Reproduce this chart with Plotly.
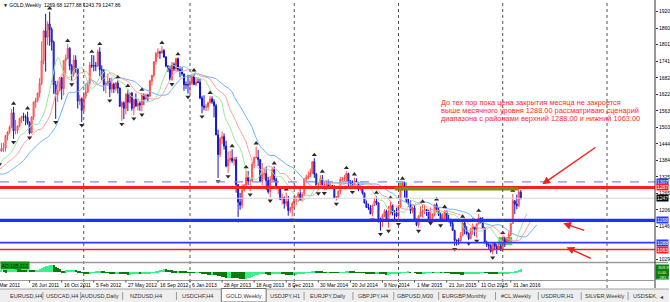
import numpy as np
import pandas as pd
import plotly.graph_objects as go

# ---------------- data (weekly GOLD bars) ----------------
opens = [
 1217,1229,1256,1256,1208,1210,1210,1188,1169,1204,1216,1228,1237,1248,1246,1275,1297,1318,1345,1369,1325,1358,1393,1367,1352,1362,1405,1385,1378,1380,
 1421,1369,1360,1343,1340,1348,1361,1388,1409,1429,1421,1418,1428,1429,1474,1486,1504,1556,1491,1493,1509,1536,1542,1541,1539,1521,1483,1541,1594,1601,1627,1662,1743,1851,1828,1876,1856,1811,1657,1622,1636,1682,1643,1744,1753,1788,1725,1695,1746,1713,1598,1606,
 1565,1616,1631,1664,1727,1725,1725,1725,1775,1711,1710,1657,1662,1669,1641,1659,1642,1663,1645,1579,1592,1572,1622,1594,1627,1572,1604,1580,1590,1584,1618,1605,1620,1616,1671,1691,1740,1770,1774,1772,1780,1757,1724,1712,1676,1731,1714,1751,1712,1705,1696,1657,1657,
 1656,1662,1686,1658,1667,1666,1609,1580,1576,1577,1592,1606,1595,1581,1476,1405,1462,1470,1436,1364,1387,1392,1383,1387,1297,1234,1223,1277,1296,1322,1310,1312,1371,1395,1395,1387,1308,1333,1337,1311,1272,1315,1351,1315,1287,1288,1244,1250,1229,1236,1204,1213,
 1230,1247,1254,1264,1240,1262,1318,1323,1327,1339,1379,1335,1294,1303,1318,1294,1300,1302,1290,1293,1292,1250,1252,1274,1316,1316,1320,1337,1310,1303,1293,1309,1305,1280,1287,1267,1231,1215,1213,1192,1222,1238,1231,1171,1169,1185,1201,1167,1191,1222,1195,1195,
 1184,1216,1277,1293,1283,1234,1227,1204,1213,1167,1152,1183,1199,1201,1207,1203,1174,1179,1189,1225,1205,1189,1168,1181,1201,1173,1168,1157,1132,1097,1095,1094,1113,1159,1134,1121,1103,1137,1145,1136,1156,1177,1163,1141,1088,1081,1077,1057,1086,1075,1065,1076,
 1061,1097,1089,1097,1117,1157,1239,1227,1221,1269.68]
highs = [
 1254,1262,1266,1262,1214,1218,1212,1199,1212,1216,1235,1241,1255,1259,1275,1300,1321,1349,1387,1381,1359,1398,1424,1378,1380,1416,1431,1407,1391,1424,
 1422,1391,1375,1346,1361,1374,1389,1417,1440,1445,1431,1447,1448,1476,1490,1510,1569,1577,1530,1510,1537,1545,1556,1549,1560,1525,1543,1597,1610,1628,1681,1813,1852,1912,1885,1920,1864,1816,1671,1672,1684,1685,1745,1766,1803,1792,1731,1764,1763,1717,1620,1611,
 1630,1660,1672,1739,1764,1763,1739,1784,1792,1727,1713,1669,1697,1681,1683,1664,1667,1672,1647,1598,1597,1627,1641,1628,1630,1606,1626,1605,1597,1627,1626,1625,1624,1675,1692,1741,1774,1788,1780,1796,1786,1760,1728,1725,1739,1737,1754,1755,1723,1722,1697,1669,1693,
 1680,1694,1697,1684,1683,1680,1617,1619,1588,1596,1616,1615,1605,1588,1495,1469,1488,1481,1455,1416,1419,1424,1396,1397,1298,1267,1298,1298,1348,1346,1318,1379,1398,1434,1422,1389,1375,1355,1362,1325,1328,1361,1362,1322,1292,1289,1264,1254,1268,1256,1217,1236,
 1255,1256,1271,1280,1270,1319,1333,1345,1355,1382,1392,1338,1303,1331,1332,1306,1315,1315,1305,1296,1294,1256,1276,1325,1325,1332,1345,1340,1314,1312,1322,1320,1306,1296,1291,1268,1240,1229,1223,1226,1250,1256,1233,1178,1192,1208,1207,1220,1238,1225,1205,1214,
 1224,1282,1307,1306,1287,1245,1240,1220,1223,1175,1187,1219,1224,1224,1209,1206,1215,1194,1228,1232,1215,1196,1194,1205,1204,1189,1174,1168,1134,1099,1104,1126,1170,1169,1147,1125,1142,1157,1148,1157,1191,1178,1180,1143,1095,1090,1083,1088,1088,1083,1088,1082,
 1111,1109,1104,1128,1158,1263,1240,1261,1281,1277.88]
lows = [
 1207,1216,1236,1198,1191,1199,1175,1157,1165,1191,1214,1222,1236,1240,1241,1270,1289,1311,1340,1316,1318,1329,1366,1330,1341,1355,1378,1365,1372,1375,
 1354,1355,1333,1309,1327,1340,1356,1385,1407,1415,1382,1416,1414,1416,1456,1480,1500,1462,1478,1480,1503,1520,1526,1511,1513,1478,1481,1530,1574,1593,1611,1655,1730,1704,1800,1797,1780,1624,1534,1595,1633,1603,1618,1693,1748,1709,1670,1685,1700,1571,1584,1523,
 1560,1606,1627,1651,1717,1705,1706,1721,1688,1673,1634,1627,1653,1612,1628,1627,1633,1625,1578,1527,1533,1550,1562,1589,1563,1547,1577,1564,1563,1561,1583,1600,1597,1613,1654,1683,1729,1755,1750,1768,1754,1720,1702,1673,1671,1705,1705,1705,1683,1690,1635,1642,1625,
 1626,1655,1655,1652,1662,1605,1554,1565,1562,1564,1590,1588,1539,1476,1321,1396,1444,1423,1359,1339,1377,1375,1366,1268,1180,1207,1211,1272,1292,1295,1273,1306,1357,1391,1364,1307,1295,1316,1278,1264,1251,1307,1306,1280,1262,1241,1226,1210,1219,1185,1194,1182,
 1211,1224,1235,1238,1236,1257,1309,1316,1324,1336,1321,1292,1277,1294,1290,1278,1278,1281,1287,1283,1249,1240,1249,1262,1309,1310,1310,1292,1287,1282,1286,1304,1273,1275,1261,1229,1213,1206,1190,1183,1220,1223,1160,1131,1145,1180,1162,1142,1190,1186,1171,1180,
 1167,1214,1276,1250,1232,1216,1192,1194,1163,1147,1142,1182,1178,1191,1184,1172,1170,1170,1183,1200,1184,1162,1165,1171,1171,1161,1146,1131,1077,1077,1080,1091,1112,1118,1116,1097,1100,1116,1112,1106,1154,1157,1141,1085,1072,1065,1052,1046,1062,1047,1064,1058,
 1061,1072,1078,1094,1111,1157,1191,1208,1216,1243.79]
closes = [
 1229,1256,1256,1208,1210,1210,1188,1169,1204,1216,1228,1237,1248,1246,1275,1297,1318,1345,1369,1325,1358,1393,1367,1352,1362,1405,1385,1378,1380,1421,
 1369,1360,1343,1340,1348,1361,1388,1409,1429,1421,1418,1428,1429,1474,1486,1504,1556,1491,1493,1509,1536,1542,1541,1539,1521,1483,1541,1594,1601,1627,1662,1743,1851,1828,1876,1856,1811,1657,1622,1636,1682,1643,1744,1753,1788,1725,1695,1746,1713,1598,1606,1565,
 1616,1631,1664,1727,1725,1725,1725,1775,1711,1710,1657,1662,1669,1641,1659,1642,1663,1645,1579,1592,1572,1622,1594,1627,1572,1604,1580,1590,1584,1618,1605,1620,1616,1671,1691,1740,1770,1774,1772,1780,1757,1724,1712,1676,1731,1714,1751,1712,1705,1696,1657,1657,1656,
 1662,1686,1658,1667,1666,1609,1580,1576,1577,1592,1606,1595,1581,1476,1405,1462,1470,1436,1364,1387,1392,1383,1387,1297,1234,1223,1277,1296,1322,1310,1312,1371,1395,1395,1387,1308,1333,1337,1311,1272,1315,1351,1315,1287,1288,1244,1250,1229,1236,1204,1213,1230,
 1247,1254,1264,1240,1262,1318,1323,1327,1339,1379,1335,1294,1303,1318,1294,1300,1302,1290,1293,1292,1250,1252,1274,1316,1316,1320,1337,1310,1303,1293,1309,1305,1280,1287,1267,1231,1215,1213,1192,1222,1238,1231,1171,1169,1185,1201,1167,1191,1222,1195,1195,1184,
 1216,1277,1293,1283,1234,1227,1204,1213,1167,1152,1183,1199,1201,1207,1203,1174,1179,1189,1225,1205,1189,1168,1181,1201,1173,1168,1157,1132,1097,1095,1094,1113,1159,1134,1121,1103,1137,1145,1136,1156,1177,1163,1141,1088,1081,1077,1057,1086,1075,1065,1076,1061,
 1097,1089,1097,1117,1157,1239,1227,1221,1271,1247.86]
last_bar = "2016-03-06"

date_label_dates = ["2011-03-06","2011-06-26","2011-10-16","2012-02-05","2012-05-27","2012-09-16","2013-01-06",
                    "2013-04-28","2013-08-18","2013-12-08","2014-03-30","2014-07-20","2014-11-09",
                    "2015-03-01","2015-06-21","2015-10-11","2016-01-31"]
date_label_texts = ["6 Mar 2011","26 Jun 2011","16 Oct 2011","5 Feb 2012","27 May 2012","16 Sep 2012","6 Jan 2013",
                    "28 Apr 2013","18 Aug 2013","8 Dec 2013","30 Mar 2014","20 Jul 2014","9 Nov 2014",
                    "1 Mar 2015","21 Jun 2015","11 Oct 2015","31 Jan 2016"]

price_ticks = [1920,1860,1801,1741,1682,1622,1563,1503,1444,1384,1325,1265,1206,1146,1029]

year_starts = ["2012-01-01","2013-01-06","2014-01-05","2015-01-04","2016-01-03","2017-01-01"]

levels = [  # price, label, line colour, width, dash, box colour
    (1307, "1307", "#7f86ff", 1.2, "dash", "#2b3cff"),
    (1287, "1287", "#ff1f1f", 3.0, "solid", "#ff1f1f"),
    (1247.86, "1247", "#d6d6d6", 1.0, "solid", "#000000"),
    (1168, "1168", "#1f2fff", 3.2, "solid", "#2b3cff"),
    (1088, "1088", "#2b3cff", 1.6, "solid", "#2b3cff"),
    (1063, "1063", "#ff2020", 1.4, "solid", "#ff2020"),
]

note_lines = ["До тех пор пока цена закрытия месяца не закроется",
              "выше месячного уровня 1288.00 рассматриваю сценарий",
              "диапазона с районами верхний 1288.00 и нижний 1063.00"]

tabs = ["EURUSD,H4","USDCAD,H4","AUDUSD,Daily","NZDUSD,H4","USDCHF,H4","GOLD,Weekly","USDJPY,H1",
        "EURJPY,Daily","GBPJPY,H4","GBPUSD,M30","EURGBP,Monthly","#CL,Weekly","USDRUR,H1",
        "SILVER,Weekly","USDSEK,"]
tab_centers = [26,62.5,100.5,146,198,244.5,285.5,329,374,416,465,518,559,606.5,647.5]
tab_seps = [43,81,123,177,305,354,395,440,497,540,583,630]

# ---------------- geometry helpers ----------------
W, H = 657, 280
def PX(x): return x / W
def PY(y): return (H - y) / H

ANCHOR = pd.Timestamp("2012-01-01")
ANCHOR_PX = 84.0
PX_PER_WEEK = 2.011
def date_at(px):
    return ANCHOR + pd.Timedelta(days=(px - ANCHOR_PX) / PX_PER_WEEK * 7)
def px_of(d):
    return ANCHOR_PX + (pd.Timestamp(d) - ANCHOR).total_seconds() / 86400 / 7 * PX_PER_WEEK

x_range = [date_at(0), date_at(W)]
y_range = [1018.2, 1962.2]

# ---------------- derived indicator series ----------------
n = len(closes)
dates = pd.date_range(end=last_bar, periods=n, freq="W-SUN")
o = np.array(opens, float); h = np.array(highs, float)
l = np.array(lows, float); c = np.array(closes, float)
med = (h + l) / 2

def smma(v, p):
    out = np.full(len(v), np.nan)
    s = v[:p].mean(); out[p - 1] = s
    for i in range(p, len(v)):
        s = (s * (p - 1) + v[i]) / p
        out[i] = s
    return out

def sma(v, p):
    return pd.Series(v).rolling(p).mean().values

ao = sma(med, 5) - sma(med, 34)
ao_col = ["#39f08a" if (i > 0 and ao[i] > ao[i - 1]) else "#0b7a0b" for i in range(n)]

fig = go.Figure()

# Alligator (jaw, teeth, lips)
for per, shift, col in [(13, 8, "#6db3ff"), (8, 5, "#ffa0a0"), (5, 3, "#9be89b")]:
    fig.add_trace(go.Scatter(x=dates + pd.Timedelta(weeks=shift), y=smma(med, per), mode="lines",
                             line=dict(color=col, width=1), hoverinfo="skip", showlegend=False))

fig.add_trace(go.Candlestick(
    x=dates, open=o, high=h, low=l, close=c, whiskerwidth=0,
    increasing=dict(line=dict(color="#ff4a4a", width=1), fillcolor="#ff9c9c"),
    decreasing=dict(line=dict(color="#1010c8", width=1), fillcolor="#7a7aff"),
    hoverinfo="skip", showlegend=False))

# fractals
up_x, up_y, dn_x, dn_y = [], [], [], []
for i in range(2, n - 2):
    if h[i] > h[i-1] and h[i] > h[i-2] and h[i] >= h[i+1] and h[i] >= h[i+2]:
        up_x.append(dates[i]); up_y.append(h[i] + 12)
    if l[i] < l[i-1] and l[i] < l[i-2] and l[i] <= l[i+1] and l[i] <= l[i+2]:
        dn_x.append(dates[i]); dn_y.append(l[i] - 12)
fig.add_trace(go.Scatter(x=up_x, y=up_y, mode="markers", hoverinfo="skip", showlegend=False,
                         marker=dict(symbol="triangle-up", size=4.5, color="#2a2a2a",
                                     line=dict(width=0))))
fig.add_trace(go.Scatter(x=dn_x, y=dn_y, mode="markers", hoverinfo="skip", showlegend=False,
                         marker=dict(symbol="triangle-down", size=4.5, color="#2a2a2a",
                                     line=dict(width=0))))

# Awesome oscillator
fig.add_trace(go.Bar(x=dates, y=ao, marker=dict(color=ao_col, line=dict(width=0)),
                     width=7 * 86400000 * 0.55, yaxis="y2", hoverinfo="skip", showlegend=False))

shapes = []
# green rectangles (background)
for (d0, d1, p0, p1) in [("2015-01-06", "2015-02-02", 1278, 1305), ("2015-12-19", "2016-02-05", 1079, 1108)]:
    shapes.append(dict(type="rect", xref="x", yref="y", x0=d0, x1=d1, y0=p0, y1=p1,
                       fillcolor="#3ddc3d", line=dict(width=0), layer="below"))
# level lines
for p, lab, col, wdt, dash, bcol in levels:
    shapes.append(dict(type="line", xref="paper", yref="y", x0=0, x1=1, y0=p, y1=p,
                       line=dict(color=col, width=wdt, dash=dash), layer="above"))
# olive band
shapes.append(dict(type="rect", xref="x", yref="y", x0="2014-12-22", x1="2016-02-26", y0=1276, y1=1287.5,
                   fillcolor="#7f8a10", line=dict(width=0), layer="above"))
# year separators
for d in year_starts:
    shapes.append(dict(type="line", xref="x", yref="paper", x0=d, x1=d, y0=PY(288), y1=1,
                       line=dict(color="#555555", width=1, dash="dot")))
# panel separator and axis borders
shapes.append(dict(type="line", xref="paper", yref="paper", x0=0, x1=670 / W, y0=PY(262.5), y1=PY(262.5),
                   line=dict(color="#9a9a9a", width=1.5)))
shapes.append(dict(type="line", xref="paper", yref="paper", x0=1, x1=1, y0=PY(288), y1=1,
                   line=dict(color="#333333", width=1)))
shapes.append(dict(type="line", xref="paper", yref="paper", x0=0, x1=1, y0=PY(280.5), y1=PY(280.5),
                   line=dict(color="#9a9a9a", width=1)))
# date tick marks
for d in date_label_dates:
    shapes.append(dict(type="line", xref="x", yref="paper", x0=d, x1=d, y0=PY(280.5), y1=PY(282.5),
                       line=dict(color="#444444", width=1)))
# AO value box at right
shapes.append(dict(type="rect", xref="paper", yref="paper", x0=PX(657.5), x1=PX(671), y0=PY(279.5), y1=PY(264.5),
                   fillcolor="#0b7d0b", line=dict(width=0)))
# tab bar
shapes.append(dict(type="rect", xref="paper", yref="paper", x0=0, x1=PX(671), y0=PY(303), y1=PY(289),
                   fillcolor="#eeeeee", line=dict(width=0)))
shapes.append(dict(type="line", xref="paper", yref="paper", x0=0, x1=PX(671), y0=PY(289), y1=PY(289),
                   line=dict(color="#a0a0a0", width=1)))
shapes.append(dict(type="rect", xref="paper", yref="paper", x0=PX(222), x1=PX(267), y0=PY(302), y1=PY(288.5),
                   fillcolor="#ffffff", line=dict(color="#707070", width=1)))
for sx in tab_seps:
    shapes.append(dict(type="line", xref="paper", yref="paper", x0=PX(sx), x1=PX(sx), y0=PY(300), y1=PY(292),
                       line=dict(color="#9a9a9a", width=1)))

ann = []
FONT = "Liberation Sans"
ann.append(dict(xref="paper", yref="paper", x=PX(1.5), y=PY(4.6), xanchor="left", yanchor="middle",
                text="▼ GOLD,Weekly  1269.68 1277.88 1243.79 1247.86", showarrow=False,
                font=dict(family=FONT, size=5, color="#000000")))
for i, t in enumerate(note_lines):
    ann.append(dict(xref="paper", yref="paper", x=PX(440.5), y=PY(102.6 + 7.9 * i), xanchor="left",
                    yanchor="middle", text=t, showarrow=False,
                    font=dict(family=FONT, size=7.4, color="#ff2a2a")))
# red arrows (head, tail in pixels)
for hx, hy, tx, ty in [(544, 184.3, 598.5, 146.5), (565, 223.3, 587.5, 230.8), (568.3, 247.3, 594, 259)]:
    ann.append(dict(xref="paper", yref="paper", x=PX(hx), y=PY(hy), ax=tx - hx, ay=ty - hy, text="",
                    showarrow=True, arrowhead=2, arrowsize=1.1, arrowwidth=1.4, arrowcolor="#ff1a1a"))
# right-side level boxes
for p, lab, col, wdt, dash, bcol in levels:
    ann.append(dict(xref="paper", yref="y", x=PX(658), y=p, xanchor="left", yanchor="middle", text=lab,
                    showarrow=False, bgcolor=bcol, borderpad=0,
                    font=dict(family=FONT, size=5, color="#ffffff")))
# AO labels
ann.append(dict(xref="paper", yref="paper", x=0, y=PY(265.5), xanchor="left", yanchor="middle",
                text="AO 105.112", showarrow=False, bgcolor="#139a13", borderpad=0.5,
                font=dict(family=FONT, size=5, color="#002a00")))
for yy, t in [(267.5, "309.9"), (272.5, "0.00"), (277.3, "-281.7")]:
    ann.append(dict(xref="paper", yref="paper", x=PX(658.5), y=PY(yy), xanchor="left", yanchor="middle",
                    text=t, showarrow=False, font=dict(family=FONT, size=4.2, color="#e8ffe8")))
# date labels along the time scale (the first one runs off the left edge, as in the terminal)
for k, (d, t) in enumerate(zip(date_label_dates, date_label_texts)):
    ann.append(dict(xref="paper", yref="paper", x=PX(px_of(d)), y=PY(285.3), xanchor="left",
                    yanchor="middle", text=t, showarrow=False, xshift=(-5 if k == 0 else 0),
                    font=dict(family=FONT, size=5, color="#000000")))
# tabs
for t, cx in zip(tabs, tab_centers):
    ann.append(dict(xref="paper", yref="paper", x=PX(cx), y=PY(296.3), xanchor="center", yanchor="middle",
                    text=t, showarrow=False, font=dict(family=FONT, size=5.6, color="#333333")))
ann.append(dict(xref="paper", yref="paper", x=PX(663.5), y=PY(296.3), xanchor="center", yanchor="middle",
                text="◂", showarrow=False, font=dict(family="DejaVu Sans", size=6, color="#333333")))

fig.update_layout(
    width=670, height=302, margin=dict(l=0, r=13, t=0, b=22),
    paper_bgcolor="#ffffff", plot_bgcolor="#ffffff", hovermode=False, showlegend=False,
    bargap=0, shapes=shapes, annotations=ann,
    xaxis=dict(type="date", range=x_range, anchor="y2", showgrid=False, zeroline=False,
               rangeslider=dict(visible=False), showticklabels=False, ticks="", showline=False,
               fixedrange=True),
    yaxis=dict(domain=[PY(262), 1], range=y_range, side="right", anchor="x", showgrid=False,
               zeroline=False, tickvals=price_ticks, ticktext=[str(v) for v in price_ticks],
               ticks="outside", ticklen=2, tickcolor="#333",
               tickfont=dict(family=FONT, size=5, color="#000000"), showline=False),
    yaxis2=dict(domain=[0, PY(264)], range=[-281.7, 309.9], side="right", anchor="x", showgrid=False,
                zeroline=False, showticklabels=False, ticks="", showline=False),
)

fig.write_html("out.html")
